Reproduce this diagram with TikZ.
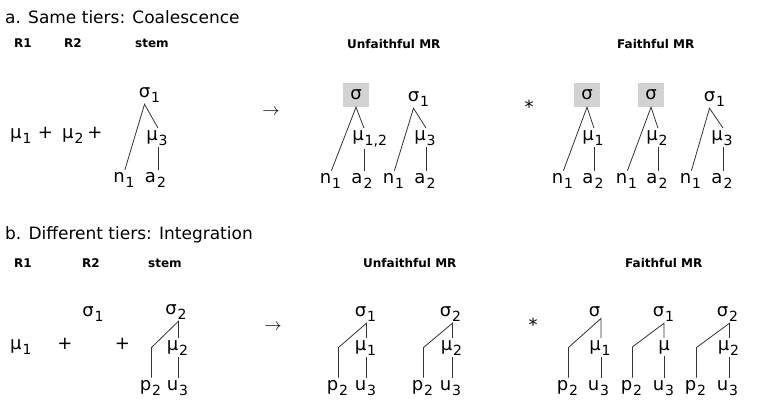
\documentclass[tikz,border=0pt]{standalone}
\usepackage{fontspec}
\setmainfont{DejaVu Sans}
\usetikzlibrary{positioning}
\newcommand{\lo}[1]{\rlap{\kern1pt\raisebox{-0.28em}{\fontsize{14}{14}\selectfont #1}}}

\tikzset{
  hd/.style={anchor=base west, inner sep=0pt, font=\fontsize{17}{22}\selectfont},
  col/.style={anchor=base west, inner sep=0pt, font=\bfseries\fontsize{12}{14}\selectfont},
  seg/.style={anchor=base, inner xsep=0pt, inner ysep=2pt, font=\fontsize{18}{20}\selectfont},
  grey/.style={fill=gray!35, minimum width=26pt, minimum height=24pt, inner sep=0pt, font=\fontsize{18}{20}\selectfont},
  link/.style={draw=black!80, line width=0.8pt},
}

\begin{document}
\begin{tikzpicture}[x=1pt,y=-1pt]
  \useasboundingbox (0,0) rectangle (761,405);

  % a. gleiche Schicht: Koaleszenz
  \node[hd] (headA) at (5,23) {a. Same tiers: Coalescence};
  \node[col] (aR1) at (14,47) {R1};
  \node[col] (aR2) at (64,47) {R2};
  \node[col] (aStem) at (135,47) {stem};
  \node[col] (aUnf) at (347,48) {Unfaithful MR};
  \node[col] (aFai) at (617,48) {Faithful MR};

  \node[seg, anchor=base west] (aMu1) at (10,138) {μ\lo{1}};
  \node[seg] (aPlus1) at (45.5,138) {+};
  \node[seg, anchor=base west] (aMu2) at (62,138) {μ\lo{2}};
  \node[seg] (aPlus2) at (95,138) {+};

  \node[seg] (sS) at (144.5,97) {σ\lo{1}};
  \node[seg] (sM) at (152,140) {μ\lo{3}};
  \node[seg] (sN) at (119,182) {n\lo{1}};
  \node[seg] (sA) at (150.5,182) {a\lo{2}};
  \draw[link] (sN.north east) -- (sS.south) -- (sM.north east);
  \draw[link] (sM.south east) -- (sM.south east |- sA.north);

  \node[seg, anchor=center] (aArrow) at (271,112) {$\rightarrow$};

  % unfaithful
  \node[grey] (u1S) at (356,95) {σ};
  \node[seg] (u1M) at (358,140) {μ\lo{1,2}};
  \node[seg] (u1N) at (325.5,183) {n\lo{1}};
  \node[seg] (u1A) at (357,183) {a\lo{2}};
  \draw[link] (u1N.north east) -- (u1S.south) -- (u1M.north east);
  \draw[link] (u1M.south east) -- (u1M.south east |- u1A.north);

  \node[seg] (u2S) at (413.5,101) {σ\lo{1}};
  \node[seg] (u2M) at (420,140) {μ\lo{3}};
  \node[seg] (u2N) at (388.5,183) {n\lo{1}};
  \node[seg] (u2A) at (420,183) {a\lo{2}};
  \draw[link] (u2N.north east) -- (u2S.south) -- (u2M.north east);
  \draw[link] (u2M.south east) -- (u2M.south east |- u2A.north);

  % faithful
  \node[seg, anchor=center] (aStar) at (529,107) {*};

  \node[grey] (f1S) at (587,95) {σ};
  \node[seg] (f1M) at (588,140) {μ\lo{1}};
  \node[seg] (f1N) at (557.5,183) {n\lo{1}};
  \node[seg] (f1A) at (588,183) {a\lo{2}};
  \draw[link] (f1N.north east) -- (f1S.south) -- (f1M.north east);
  \draw[link] (f1M.south east) -- (f1M.south east |- f1A.north);

  \node[grey] (f2S) at (651,95) {σ};
  \node[seg] (f2M) at (652,140) {μ\lo{2}};
  \node[seg] (f2N) at (621.5,183) {n\lo{1}};
  \node[seg] (f2A) at (652,183) {a\lo{2}};
  \draw[link] (f2N.north east) -- (f2S.south) -- (f2M.north east);
  \draw[link] (f2M.south east) -- (f2M.south east |- f2A.north);

  \node[seg] (f3S) at (709.5,101) {σ\lo{1}};
  \node[seg] (f3M) at (717,140) {μ\lo{3}};
  \node[seg] (f3N) at (685.5,183) {n\lo{1}};
  \node[seg] (f3A) at (717,183) {a\lo{2}};
  \draw[link] (f3N.north east) -- (f3S.south) -- (f3M.north east);
  \draw[link] (f3M.south east) -- (f3M.south east |- f3A.north);

  % b. verschiedene Schichten: Integration
  \node[hd] (headB) at (5,239) {b. Different tiers: Integration};
  \node[col] (bR1) at (14,267) {R1};
  \node[col] (bR2) at (82,267) {R2};
  \node[col] (bStem) at (148,267) {stem};
  \node[col] (bUnf) at (363,267) {Unfaithful MR};
  \node[col] (bFai) at (625,267) {Faithful MR};

  \node[seg, anchor=base west] (bMu1) at (10,349) {μ\lo{1}};
  \node[seg] (bPlus1) at (65,349) {+};
  \node[seg] (bSig1) at (88,316) {σ\lo{1}};
  \node[seg] (bPlus2) at (122.5,349) {+};

  \node[seg] (tS) at (171,314) {σ\lo{2}};
  \node[seg] (tM) at (172.5,350) {μ\lo{2}};
  \node[seg] (tP) at (145.5,390) {p\lo{2}};
  \node[seg] (tU) at (172.5,390) {u\lo{3}};
  \draw[link] (tP.north east) -- (tP.north east |- tM.west) -- (tM.north east |- tS.south) -- (tM.north east);
  \draw[link] (tM.south east) -- (tM.south east |- tU.north);

  \node[seg, anchor=center] (bArrow) at (273,327) {$\rightarrow$};

  % unfaithful
  \node[seg] (v1S) at (360.5,316) {σ\lo{1}};
  \node[seg] (v1M) at (360.5,350) {μ\lo{1}};
  \node[seg] (v1P) at (332.5,390) {p\lo{2}};
  \node[seg] (v1U) at (360.5,390) {u\lo{3}};
  \draw[link] (v1P.north east) -- (v1P.north east |- v1M.west) -- (v1M.north east |- v1S.south) -- (v1M.north east);
  \draw[link] (v1M.south east) -- (v1M.south east |- v1U.north);

  \node[seg] (v2S) at (445.5,316) {σ\lo{2}};
  \node[seg] (v2M) at (446.5,350) {μ\lo{2}};
  \node[seg] (v2P) at (417.5,390) {p\lo{2}};
  \node[seg] (v2U) at (445.5,390) {u\lo{3}};
  \draw[link] (v2P.north east) -- (v2P.north east |- v2M.west) -- (v2M.north east |- v2S.south) -- (v2M.north east);
  \draw[link] (v2M.south east) -- (v2M.south east |- v2U.north);

  % faithful
  \node[seg, anchor=center] (bStar) at (533,325) {*};

  \node[seg] (g1S) at (594.5,316) {σ};
  \node[seg] (g1M) at (595,350) {μ\lo{1}};
  \node[seg] (g1P) at (562.5,390) {p\lo{2}};
  \node[seg] (g1U) at (593.5,390) {u\lo{3}};
  \draw[link] (g1P.north east) -- (g1P.north east |- g1M.west) -- (g1M.north east |- g1S.south) -- (g1M.north east);
  \draw[link] (g1M.south east) -- (g1M.south east |- g1U.north);

  \node[seg] (g2S) at (658.5,316) {σ\lo{1}};
  \node[seg] (g2M) at (664,350) {μ};
  \node[seg] (g2P) at (626.5,390) {p\lo{2}};
  \node[seg] (g2U) at (658.5,390) {u\lo{3}};
  \draw[link] (g2P.north east) -- (g2P.north east |- g2M.west) -- (g2M.north |- g2S.south) -- (g2M.north);
  \draw[link] (g2M.south) -- (g2M.south |- g2U.north);

  \node[seg] (g3S) at (722.5,316) {σ\lo{2}};
  \node[seg] (g3M) at (723.5,350) {μ\lo{2}};
  \node[seg] (g3P) at (690.5,390) {p\lo{2}};
  \node[seg] (g3U) at (722.5,390) {u\lo{3}};
  \draw[link] (g3P.north east) -- (g3P.north east |- g3M.west) -- (g3M.north east |- g3S.south) -- (g3M.north east);
  \draw[link] (g3M.south east) -- (g3M.south east |- g3U.north);
\end{tikzpicture}
\end{document}
